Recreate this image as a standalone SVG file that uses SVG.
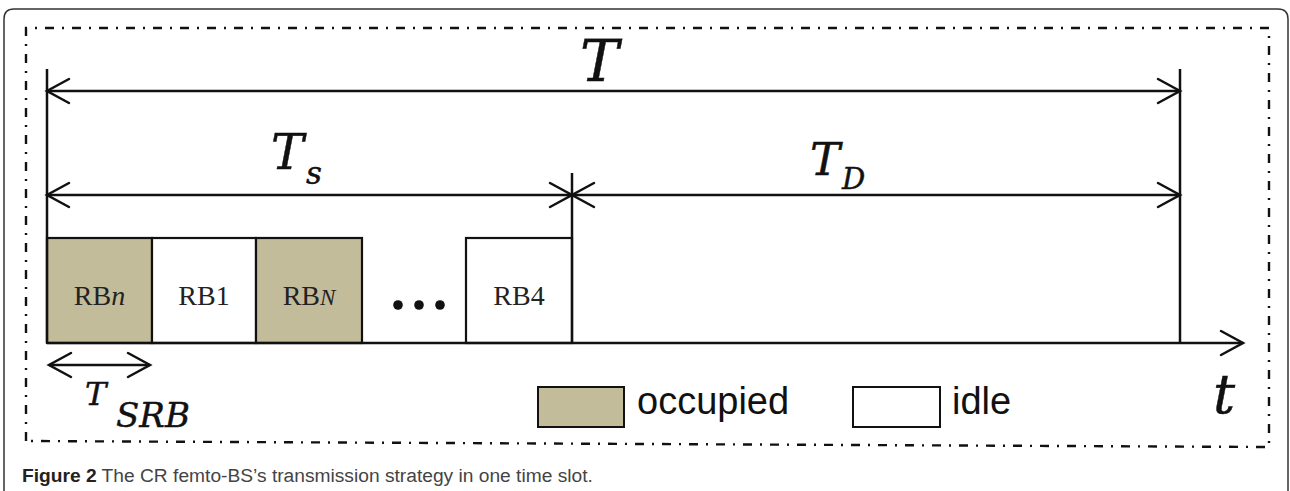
<svg xmlns="http://www.w3.org/2000/svg" width="1290" height="491" viewBox="0 0 1290 491">
<defs>
<style>
.ln{stroke:#111;stroke-width:2.5;fill:none}
.box{stroke:#111;stroke-width:2.2}
.occ{fill:#c3bc9a}
.idl{fill:#fff}
.math{font-family:"DejaVu Serif",serif;font-style:italic;fill:#111;stroke:#111;stroke-width:0.45}
.rb{font-family:"Liberation Serif",serif;font-size:28px;fill:#222;text-anchor:middle}
.leg{font-family:"Liberation Sans",sans-serif;font-size:38px;fill:#111}
.cap{font-family:"Liberation Sans",sans-serif;font-size:19.2px;fill:#444}
</style>
<marker id="ah" viewBox="-25 -14 28 28" refX="0" refY="0" markerWidth="28" markerHeight="28" markerUnits="userSpaceOnUse" orient="auto-start-reverse">
<path d="M-22,-12 L0,0 L-22,12" fill="none" stroke="#111" stroke-width="2.5" stroke-linecap="round"/>
</marker>
</defs>
<rect width="1290" height="491" fill="#fff"/>
<!-- outer frame -->
<path d="M4,495 L4,19 Q4,9 14,9 L1278,9 Q1288,9 1288,19 L1288,495" fill="none" stroke="#333" stroke-width="1.5"/>
<!-- dash-dot border -->
<path d="M26,441 L26,28 L1269,28 L1269,447 Z" fill="none" stroke="#111" stroke-width="2.4" stroke-dasharray="9 8 2 8"/>
<g id="blocks">
<g id="rbn"><rect class="box occ" x="47" y="238" width="105" height="105"/><text class="rb" x="99.5" y="305">RB<tspan font-style="italic">n</tspan></text></g>
<g id="rb1"><rect class="box idl" x="152" y="238" width="104" height="105"/><text class="rb" x="204" y="305">RB1</text></g>
<g id="rbN"><rect class="box occ" x="256" y="238" width="106" height="105"/><text class="rb" x="309" y="305">RB<tspan font-style="italic" font-size="23">N</tspan></text></g>
<g id="dots"><circle cx="398" cy="305" r="4.8" fill="#111"/><circle cx="419" cy="305" r="4.8" fill="#111"/><circle cx="440" cy="305" r="4.8" fill="#111"/></g>
<g id="rb4"><rect class="box idl" x="466" y="238" width="106" height="105"/><text class="rb" x="519" y="305">RB4</text></g>
</g>
<g id="connectors">
<line class="ln" x1="47" y1="69" x2="47" y2="343"/>
<line class="ln" x1="1180" y1="69" x2="1180" y2="343"/>
<line class="ln" x1="572" y1="173" x2="572" y2="343"/>
<line class="ln" x1="47" y1="91" x2="1180" y2="91" marker-start="url(#ah)" marker-end="url(#ah)"/>
<line class="ln" x1="47" y1="195" x2="572" y2="195" marker-start="url(#ah)" marker-end="url(#ah)"/>
<line class="ln" x1="572" y1="195" x2="1180" y2="195" marker-start="url(#ah)" marker-end="url(#ah)"/>
<line class="ln" x1="47" y1="343" x2="1243" y2="343" marker-end="url(#ah)"/>
<line class="ln" x1="49" y1="365" x2="150" y2="365" marker-start="url(#ah)" marker-end="url(#ah)"/>
</g>
<g id="labels">
<text class="math" x="580" y="81" font-size="58">T</text>
<text class="math" x="271" y="169" font-size="49">T</text>
<text class="math" x="306" y="184" font-size="31">s</text>
<text class="math" x="810" y="175" font-size="45">T</text>
<text class="math" x="842" y="189" font-size="29">D</text>
<text class="math" x="85" y="405" font-size="32" stroke-width="0.2">T</text>
<text class="math" x="116" y="427" font-size="34" stroke-width="0.2">SRB</text>
<text class="math" x="1213" y="413" font-size="55">t</text>
</g>
<g id="legend">
<g id="leg-occ"><rect x="538" y="387" width="86" height="40" fill="#c3bc9a" stroke="#111" stroke-width="2"/><text class="leg" x="637" y="414">occupied</text></g>
<g id="leg-idle"><rect x="853" y="387" width="87" height="40" fill="#fff" stroke="#111" stroke-width="2"/><text class="leg" x="952" y="414">idle</text></g>
</g>
<text class="cap" x="22" y="482"><tspan font-weight="bold" fill="#222">Figure 2</tspan> The CR femto-BS’s transmission strategy in one time slot.</text>
</svg>
